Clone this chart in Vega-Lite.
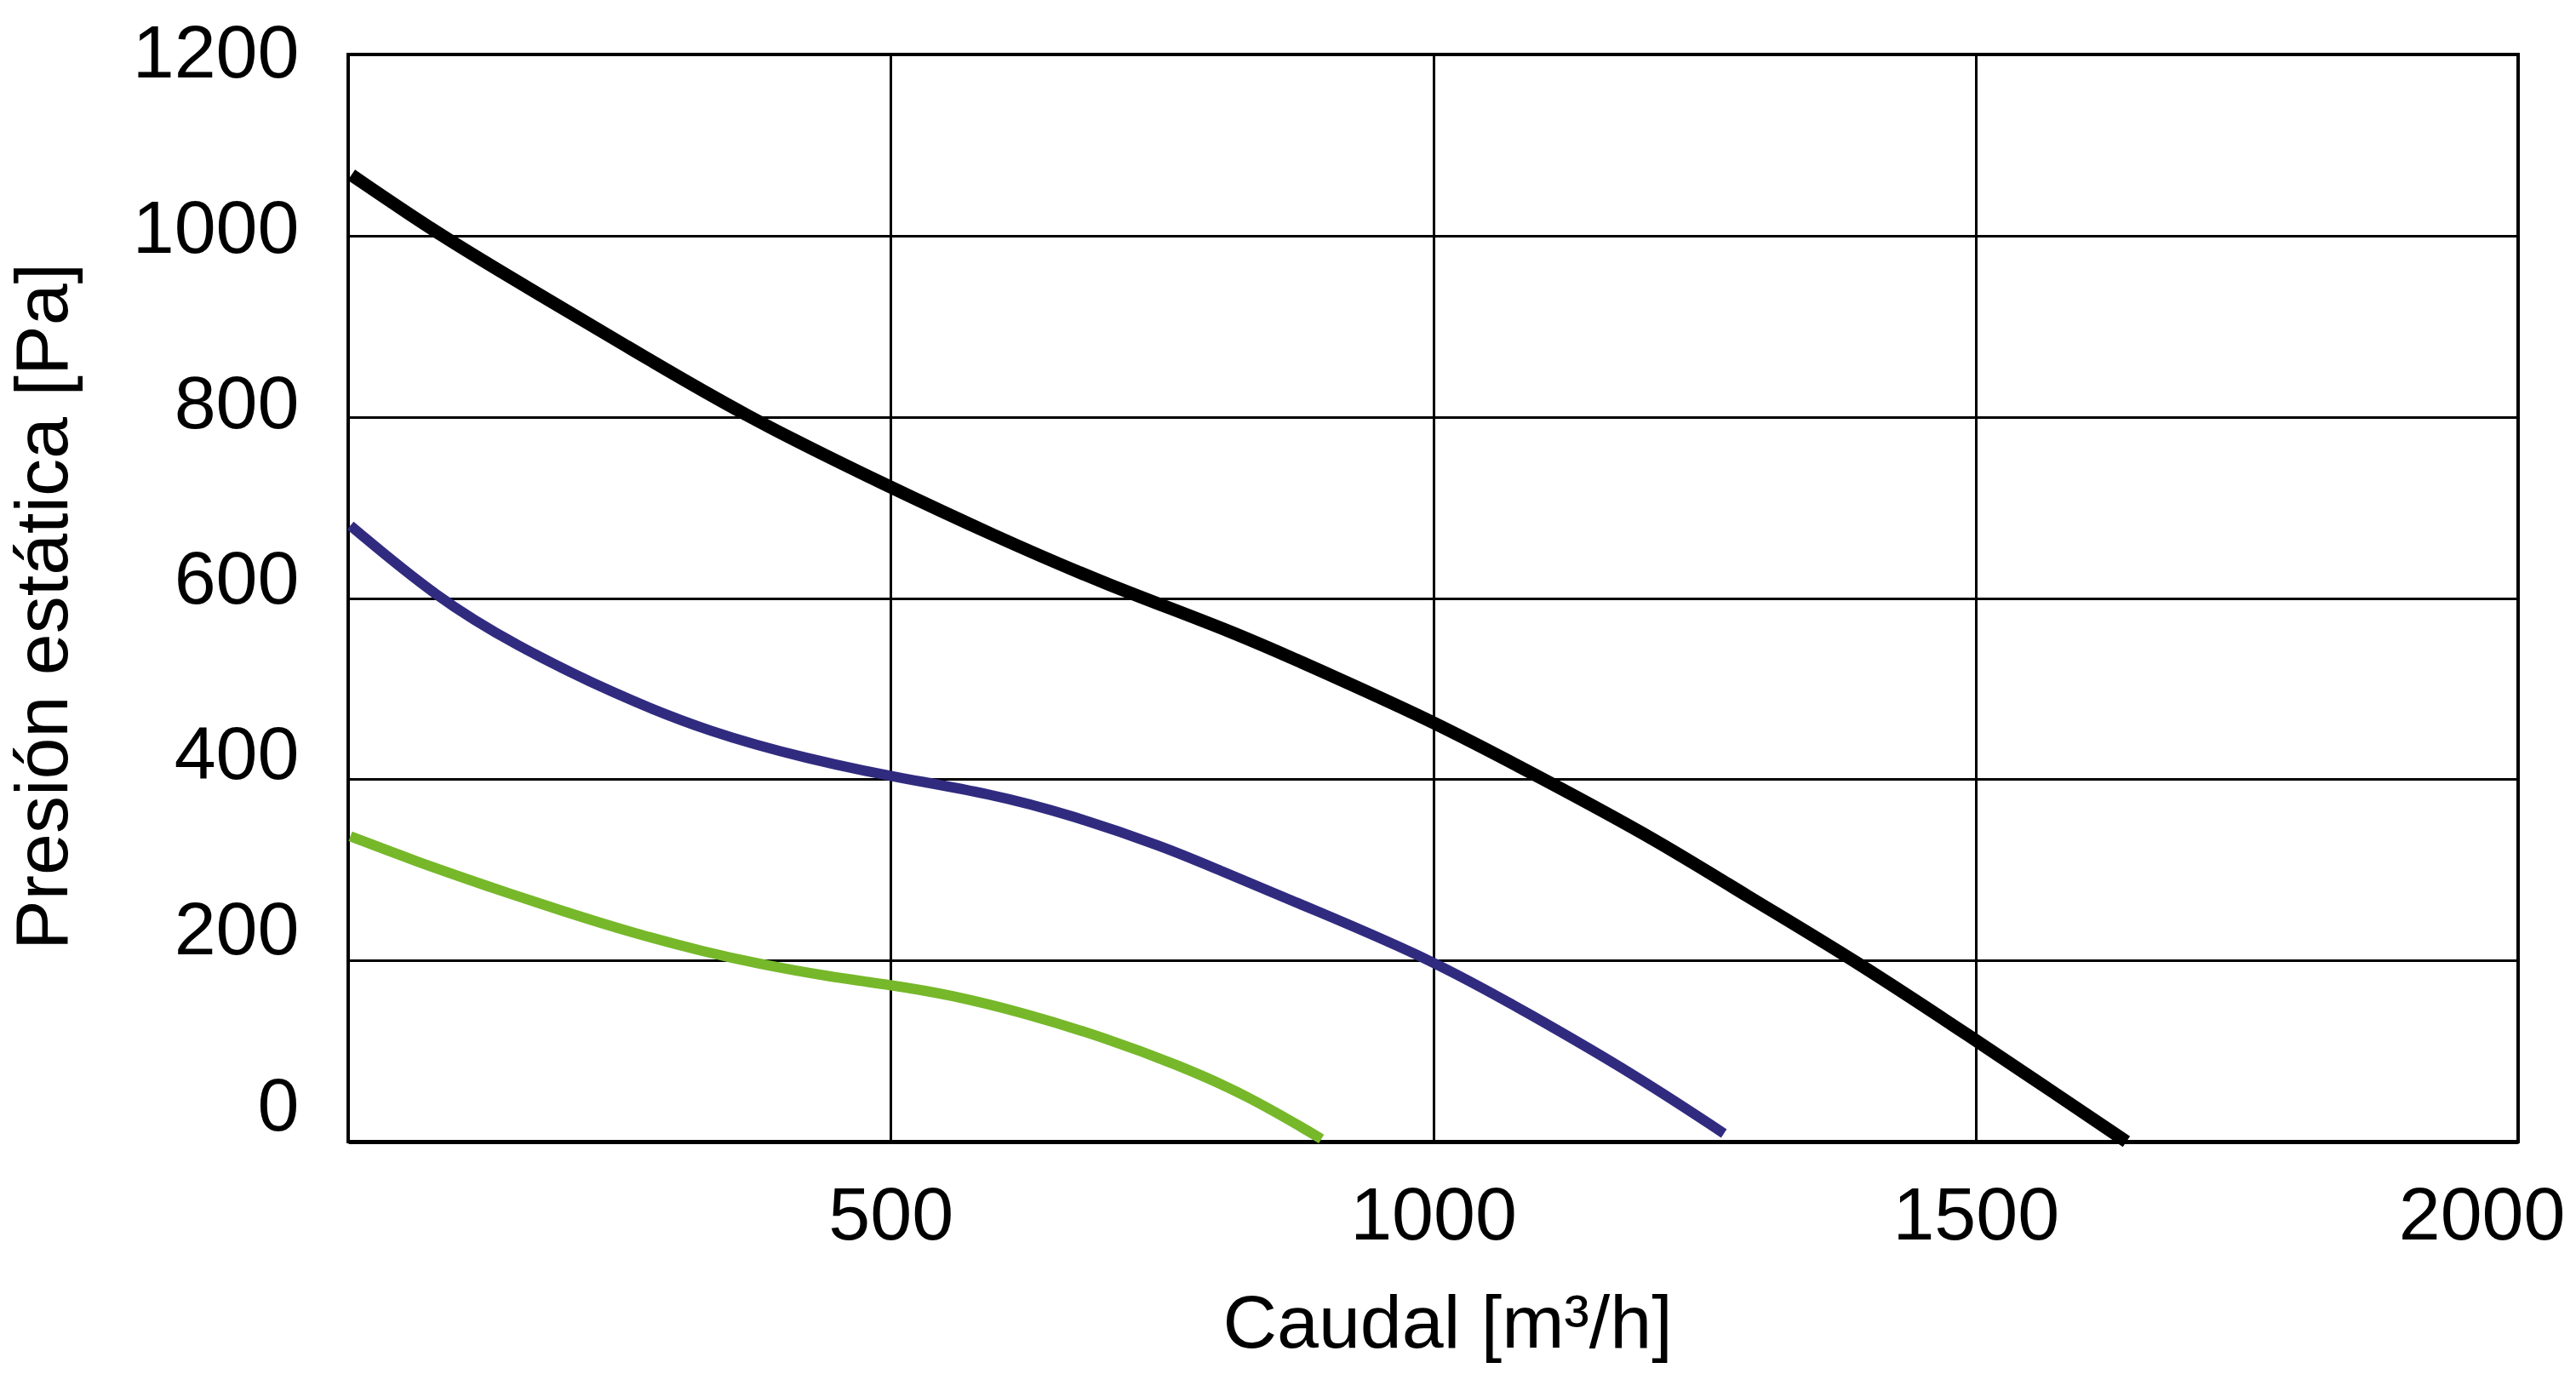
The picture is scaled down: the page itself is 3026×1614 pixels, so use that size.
{
  "$schema": "https://vega.github.io/schema/vega-lite/v6.json",
  "width": 2549,
  "height": 1277,
  "autosize": {"type": "none"},
  "padding": {"left": 409, "top": 64, "right": 68, "bottom": 273},
  "background": "white",
  "config": {
    "view": {"stroke": "black", "strokeWidth": 4},
    "font": "Liberation Sans"
  },
  "data": {
    "values": [
      {"serie": "alta", "caudal": 3, "presion": 1067},
      {"serie": "alta", "caudal": 85, "presion": 1000},
      {"serie": "alta", "caudal": 172, "presion": 938},
      {"serie": "alta", "caudal": 251, "presion": 882},
      {"serie": "alta", "caudal": 365, "presion": 801},
      {"serie": "alta", "caudal": 500, "presion": 722},
      {"serie": "alta", "caudal": 593, "presion": 670},
      {"serie": "alta", "caudal": 700, "presion": 614},
      {"serie": "alta", "caudal": 816, "presion": 563},
      {"serie": "alta", "caudal": 907, "presion": 514},
      {"serie": "alta", "caudal": 1000, "presion": 464},
      {"serie": "alta", "caudal": 1102, "presion": 400},
      {"serie": "alta", "caudal": 1206, "presion": 333},
      {"serie": "alta", "caudal": 1285, "presion": 274},
      {"serie": "alta", "caudal": 1389, "presion": 200},
      {"serie": "alta", "caudal": 1500, "presion": 112},
      {"serie": "alta", "caudal": 1571, "presion": 55},
      {"serie": "alta", "caudal": 1639, "presion": 0},
      {"serie": "media", "caudal": 2, "presion": 680},
      {"serie": "media", "caudal": 82, "presion": 600},
      {"serie": "media", "caudal": 154, "presion": 548},
      {"serie": "media", "caudal": 245, "presion": 494},
      {"serie": "media", "caudal": 335, "presion": 451},
      {"serie": "media", "caudal": 425, "presion": 422},
      {"serie": "media", "caudal": 500, "presion": 403},
      {"serie": "media", "caudal": 593, "presion": 384},
      {"serie": "media", "caudal": 665, "presion": 361},
      {"serie": "media", "caudal": 755, "presion": 324},
      {"serie": "media", "caudal": 796, "presion": 303},
      {"serie": "media", "caudal": 894, "presion": 254},
      {"serie": "media", "caudal": 1000, "presion": 200},
      {"serie": "media", "caudal": 1089, "presion": 141},
      {"serie": "media", "caudal": 1187, "presion": 73},
      {"serie": "media", "caudal": 1268, "presion": 9},
      {"serie": "baja", "caudal": 2, "presion": 337},
      {"serie": "baja", "caudal": 61, "presion": 310},
      {"serie": "baja", "caudal": 128, "presion": 282},
      {"serie": "baja", "caudal": 196, "presion": 255},
      {"serie": "baja", "caudal": 263, "presion": 230},
      {"serie": "baja", "caudal": 330, "presion": 209},
      {"serie": "baja", "caudal": 375, "presion": 197},
      {"serie": "baja", "caudal": 443, "presion": 182},
      {"serie": "baja", "caudal": 500, "presion": 173},
      {"serie": "baja", "caudal": 555, "presion": 162},
      {"serie": "baja", "caudal": 623, "presion": 142},
      {"serie": "baja", "caudal": 699, "presion": 114},
      {"serie": "baja", "caudal": 764, "presion": 85},
      {"serie": "baja", "caudal": 829, "presion": 51},
      {"serie": "baja", "caudal": 897, "presion": 3}
    ]
  },
  "encoding": {
    "x": {
      "field": "caudal",
      "type": "quantitative",
      "scale": {"domain": [0, 2000], "nice": false, "zero": false},
      "axis": {
        "title": "Caudal [m³/h]",
        "values": [500, 1000, 1500, 2000],
        "format": "d",
        "labelLimit": 0,
        "grid": true,
        "gridColor": "black",
        "gridWidth": 3,
        "gridOpacity": 1,
        "ticks": false,
        "domain": true,
        "domainColor": "black",
        "domainWidth": 5,
        "labelFontSize": 88,
        "labelColor": "black",
        "labelPadding": 44,
        "labelFlush": true,
        "labelFlushOffset": 55,
        "titleFontSize": 88,
        "titleFontWeight": "normal",
        "titleColor": "black",
        "titleX": 1291,
        "titleY": 241,
        "titleBaseline": "alphabetic",
        "titleAlign": "center"
      }
    },
    "y": {
      "field": "presion",
      "type": "quantitative",
      "scale": {"domain": [0, 1200], "nice": false, "zero": false},
      "axis": {
        "title": "Presión estática [Pa]",
        "values": [0, 200, 400, 600, 800, 1000, 1200],
        "format": "d",
        "labelLimit": 0,
        "grid": true,
        "gridColor": "black",
        "gridWidth": 3,
        "gridOpacity": 1,
        "ticks": false,
        "domain": false,
        "labelFontSize": 88,
        "labelColor": "black",
        "labelPadding": 58,
        "labelOffset": {"expr": "-(1200 - datum.value) / 30"},
        "labelFlush": false,
        "labelBaseline": "middle",
        "titleFontSize": 88,
        "titleFontWeight": "normal",
        "titleColor": "black",
        "titleX": -331,
        "titleY": 648,
        "titleAngle": 270,
        "titleBaseline": "alphabetic",
        "titleAlign": "center"
      }
    }
  },
  "layer": [
    {
      "transform": [{"filter": "datum.serie === 'baja'"}],
      "mark": {"type": "line", "interpolate": "basis", "strokeCap": "butt", "strokeWidth": 12, "color": "#76B82A"}
    },
    {
      "transform": [{"filter": "datum.serie === 'media'"}],
      "mark": {"type": "line", "interpolate": "basis", "strokeCap": "butt", "strokeWidth": 12, "color": "#312B80"}
    },
    {
      "transform": [{"filter": "datum.serie === 'alta'"}],
      "mark": {"type": "line", "interpolate": "basis", "strokeCap": "butt", "strokeWidth": 15, "color": "#000000"}
    }
  ]
}
